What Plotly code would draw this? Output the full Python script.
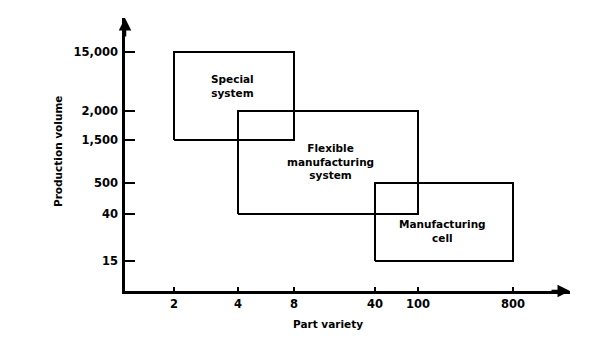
import plotly.graph_objects as go

# Tick labels and their positions on the (schematic, non-uniform) axis scales
x_labels = ["2", "4", "8", "40", "100", "800"]
x_scale = [49, 113, 169, 250, 293, 388]
y_labels = ["15", "40", "500", "1,500", "2,000", "15,000"]
y_scale = [30, 77, 108, 151, 180, 239]

# Regions: name, x-from, x-to, y-from, y-to (as tick labels)
box_names = ["Special<br>system", "Flexible<br>manufacturing<br>system", "Manufacturing<br>cell"]
box_x0 = ["2", "4", "40"]
box_x1 = ["8", "100", "800"]
box_y0 = ["1,500", "40", "15"]
box_y1 = ["15,000", "2,000", "500"]

xmap = dict(zip(x_labels, x_scale))
ymap = dict(zip(y_labels, y_scale))

FONT = "DejaVu Sans"
fig = go.Figure()

for x0, x1, y0, y1 in zip(box_x0, box_x1, box_y0, box_y1):
    xa, xb, ya, yb = xmap[x0], xmap[x1], ymap[y0], ymap[y1]
    fig.add_trace(go.Scatter(
        x=[xa, xb, xb, xa, xa], y=[ya, ya, yb, yb, ya],
        mode="lines", line=dict(color="black", width=2),
        hoverinfo="skip", showlegend=False))

label_pos = [(107, 205), (205, 130), (317, 60)]
for name, (lx, ly) in zip(box_names, label_pos):
    fig.add_annotation(x=lx, y=ly, xref="x", yref="y", text="<b>" + name + "</b>",
                       showarrow=False, font=dict(family=FONT, size=10.5, color="black"),
                       align="center")

# axis arrows
fig.add_annotation(x=445, y=0, ax=425, ay=0, xref="x", yref="y", axref="x", ayref="y",
                   text="", showarrow=True, arrowhead=2, arrowsize=1, arrowwidth=2.5,
                   arrowcolor="black")
fig.add_annotation(x=0, y=273, ax=0, ay=253, xref="x", yref="y", axref="x", ayref="y",
                   text="", showarrow=True, arrowhead=2, arrowsize=1, arrowwidth=2.5,
                   arrowcolor="black")

# axis titles
fig.add_annotation(x=(328 - 125) / 445, y=-41 / 273, xref="paper", yref="paper",
                   text="<b>Part variety</b>", showarrow=False,
                   font=dict(family=FONT, size=10.5, color="black"))
fig.add_annotation(x=(50 - 125) / 445, y=(291 - 152) / 273, xref="paper", yref="paper",
                   text="<b>Production volume</b>", showarrow=False, textangle=-90,
                   font=dict(family=FONT, size=10.5, color="black"))

fig.update_xaxes(range=[0, 445], tickmode="array", tickvals=x_scale,
                 ticktext=["<b>%s</b>" % t for t in x_labels],
                 ticks="inside", ticklen=4, tickwidth=1.5, tickcolor="black",
                 showline=True, linecolor="black", linewidth=2.5,
                 showgrid=False, zeroline=False,
                 tickfont=dict(family=FONT, size=11.5, color="black"))
fig.update_yaxes(range=[0, 273], tickmode="array", tickvals=y_scale,
                 ticktext=["<b>%s</b>" % t for t in y_labels],
                 ticks="inside", ticklen=10, tickwidth=2, tickcolor="black",
                 showline=True, linecolor="black", linewidth=2.5,
                 showgrid=False, zeroline=False, ticklabelstandoff=2,
                 tickfont=dict(family=FONT, size=11.5, color="black"))

fig.update_layout(width=603, height=349, margin=dict(l=125, r=33, t=18, b=58),
                  plot_bgcolor="white", paper_bgcolor="white", showlegend=False)

fig.write_html("out.html")
